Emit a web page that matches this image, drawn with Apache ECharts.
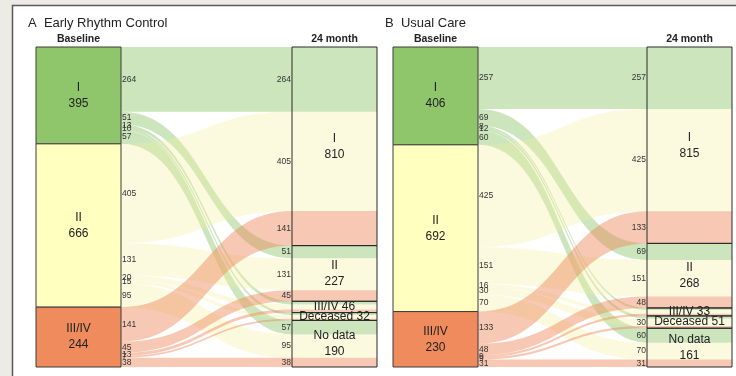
<!DOCTYPE html>
<html>
<head>
<meta charset="utf-8">
<script src="https://cdn.jsdelivr.net/npm/echarts@6/dist/echarts.min.js"></script>
<style>
html, body { margin: 0; padding: 0; background: #ecebe5; }
#chart { width: 736px; height: 376px; }
</style>
</head>
<body>
<div id="chart"></div>
<script>
// Functional class at baseline and the state reached at 24 months
const baselineStages = ['I', 'II', 'III/IV'];
const followUpStates = ['I', 'II', 'III/IV', 'Deceased', 'No data'];

// Patient counts: one row per baseline class, one column per 24-month state
const flowsEarly = [
  [264, 51, 13, 10, 57],
  [405, 131, 20, 15, 95],
  [141, 45, 13, 7, 38]
];
const flowsUsual = [
  [257, 69, 8, 12, 60],
  [425, 151, 16, 30, 70],
  [133, 48, 9, 9, 31]
];

const panelTitles = ['A  Early Rhythm Control', 'B  Usual Care'];
const columnTitles = ['Baseline', '24 month'];

// Styling
const nodeColors = ['#8fc66c', '#ffffbf', '#ef8b5d'];
const flowColors = ['#8fc66c', '#f4ee9a', '#ef8b5d'];
const flowOpacity = [0.45, 0.32, 0.47];
const TOP = 47;
const HEIGHT = 320;
const NODE_W = 85;
const FONT = '"Liberation Sans", Arial, sans-serif';
const CLEAR = 'rgba(0,0,0,0)';

const panels = [
  { key: 'A', flows: flowsEarly, left: 36, span: 341 },
  { key: 'B', flows: flowsUsual, left: 393, span: 339 }
];

const sum = arr => arr.reduce((a, b) => a + b, 0);

// Baseline boxes, 24-month boxes and the curved flows between them
function flowSeries(p) {
  const flows = p.flows;
  const srcTotals = flows.map(sum);
  const tgtTotals = followUpStates.map((_, j) => sum(flows.map(r => r[j])));
  const nodes = [];
  baselineStages.forEach((s, i) => nodes.push({
    name: p.key + 'S' + i, value: srcTotals[i], depth: 0,
    itemStyle: { color: nodeColors[i], borderColor: '#3c3c3c', borderWidth: 1 },
    label: { formatter: s + '\n' + srcTotals[i] }
  }));
  followUpStates.forEach((t, j) => nodes.push({
    name: p.key + 'T' + j, value: tgtTotals[j], depth: 1,
    itemStyle: { color: CLEAR, borderColor: '#2a2a2a', borderWidth: 1 },
    label: { formatter: tgtTotals[j] < 60 ? t + ' ' + tgtTotals[j] : t + '\n' + tgtTotals[j] }
  }));
  const links = [];
  flows.forEach((row, i) => row.forEach((v, j) => links.push({
    source: p.key + 'S' + i, target: p.key + 'T' + j, value: v,
    lineStyle: { color: flowColors[i], opacity: flowOpacity[i] }
  })));
  return {
    type: 'sankey', left: p.left, top: TOP, width: p.span, height: HEIGHT,
    nodeWidth: NODE_W, nodeGap: 0, layoutIterations: 0, draggable: false,
    emphasis: { disabled: true }, silent: true,
    label: { show: true, position: 'inside', fontSize: 12, lineHeight: 16, color: '#222', fontFamily: FONT },
    lineStyle: { curveness: 0.5 },
    data: nodes, links: links
  };
}

// Each flow carried on through its 24-month box, with its count on the left edge
function bandSeries(p) {
  const flows = p.flows;
  const nodes = [], links = [];
  followUpStates.forEach((_, j) => flows.forEach((row, i) => nodes.push({
    name: p.key + 'L' + j + '_' + i, depth: 0,
    label: { show: row[j] > 25, formatter: String(row[j]) }
  })));
  followUpStates.forEach((_, j) => flows.forEach((row, i) => nodes.push({
    name: p.key + 'R' + j + '_' + i, depth: 1, label: { show: false }
  })));
  followUpStates.forEach((_, j) => flows.forEach((row, i) => links.push({
    source: p.key + 'L' + j + '_' + i, target: p.key + 'R' + j + '_' + i, value: row[j],
    lineStyle: { color: flowColors[i], opacity: flowOpacity[i] }
  })));
  return {
    type: 'sankey', left: p.left + p.span - NODE_W, top: TOP, width: NODE_W, height: HEIGHT,
    nodeWidth: 0, nodeGap: 0, layoutIterations: 0, draggable: false,
    emphasis: { disabled: true }, silent: true,
    itemStyle: { color: CLEAR, borderWidth: 0 },
    label: { position: 'left', distance: 1, fontSize: 8.5, color: '#333', fontFamily: FONT },
    lineStyle: { curveness: 0 },
    data: nodes, links: links
  };
}

// Counts printed where each flow leaves its baseline box
function startLabelSeries(p) {
  const flows = p.flows;
  const nodes = [], links = [];
  flows.forEach((row, i) => row.forEach((v, j) => nodes.push({
    name: p.key + 'O' + i + '_' + j, depth: 0,
    label: { show: true, formatter: String(v) }
  })));
  flows.forEach((row, i) => row.forEach((v, j) => nodes.push({
    name: p.key + 'P' + i + '_' + j, depth: 1, label: { show: false }
  })));
  flows.forEach((row, i) => row.forEach((v, j) => links.push({
    source: p.key + 'O' + i + '_' + j, target: p.key + 'P' + i + '_' + j, value: v
  })));
  return {
    type: 'sankey', left: p.left + NODE_W, top: TOP, width: 4, height: HEIGHT,
    nodeWidth: 0, nodeGap: 0, layoutIterations: 0, draggable: false,
    emphasis: { disabled: true }, silent: true,
    itemStyle: { color: CLEAR, borderWidth: 0 },
    label: { position: 'right', distance: 1, fontSize: 8.5, color: '#333', fontFamily: FONT },
    lineStyle: { color: CLEAR, opacity: 0 },
    data: nodes, links: links
  };
}

const series = [];
panels.forEach(p => series.push(bandSeries(p)));
panels.forEach(p => series.push(flowSeries(p)));
panels.forEach(p => series.push(startLabelSeries(p)));

const titles = [];
panels.forEach((p, k) => {
  titles.push({
    text: panelTitles[k], left: p.left - 8, top: 17, padding: 0,
    textStyle: { fontSize: 13, fontWeight: 'normal', color: '#222', fontFamily: FONT }
  });
  titles.push({
    text: columnTitles[0], left: p.left + NODE_W / 2, textAlign: 'center', top: 34, padding: 0,
    textStyle: { fontSize: 10.5, fontWeight: 'bold', color: '#222', fontFamily: FONT }
  });
  titles.push({
    text: columnTitles[1], left: p.left + p.span - NODE_W / 2, textAlign: 'center', top: 34, padding: 0,
    textStyle: { fontSize: 10.5, fontWeight: 'bold', color: '#222', fontFamily: FONT }
  });
});

const chart = echarts.init(document.getElementById('chart'), null, { renderer: 'canvas' });
chart.setOption({
  backgroundColor: '#ecebe5',
  animation: false,
  textStyle: { fontFamily: FONT },
  graphic: [{
    type: 'rect', z: -10, silent: true,
    shape: { x: 12.5, y: 5.5, width: 760, height: 420 },
    style: { fill: '#ffffff', stroke: '#5a5a5a', lineWidth: 1.5 }
  }],
  title: titles,
  series: series
});
</script>
</body>
</html>
